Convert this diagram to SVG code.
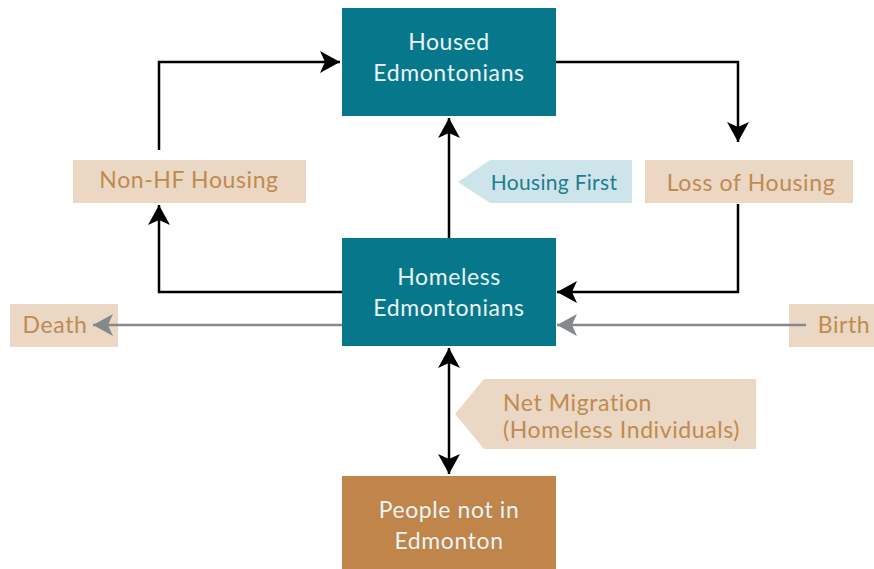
<svg xmlns="http://www.w3.org/2000/svg" width="874" height="569" viewBox="0 0 874 569">
<style>
.teal{fill:#07788C}
.tan{fill:#EAD8C4}
.org{fill:#C0854A}
.blue{fill:#CDE5EA}
text{font-family:Lato,"Open Sans","DejaVu Sans",sans-serif;font-size:23px;letter-spacing:0.6px;text-anchor:middle}
.wt{fill:#EAF4F4}
.ot{fill:#C08A50}
.bt{fill:#1D7D8E;font-size:21px;letter-spacing:0.3px}
.ln{fill:none;stroke:#000;stroke-width:2.5}
.gl{fill:none;stroke:#85888C;stroke-width:2.5}
</style>
<defs>
<marker id="ab" markerUnits="userSpaceOnUse" markerWidth="22" markerHeight="24" refX="20" refY="11" orient="auto" viewBox="0 0 22 22">
<path d="M0,0 L20,11 L0,22 L5,11 z" fill="#000"/>
</marker>
<marker id="ag" markerUnits="userSpaceOnUse" markerWidth="22" markerHeight="24" refX="20" refY="11" orient="auto" viewBox="0 0 22 22">
<path d="M0,0 L20,11 L0,22 L5,11 z" fill="#85888C"/>
</marker>
<marker id="abs" markerUnits="userSpaceOnUse" markerWidth="22" markerHeight="24" refX="20" refY="11" orient="auto-start-reverse" viewBox="0 0 22 22">
<path d="M0,0 L20,11 L0,22 L5,11 z" fill="#000"/>
</marker>
</defs>
<g id="housed">
<rect class="teal" x="342" y="8" width="214" height="108"/>
<text class="wt" x="449" y="50">Housed</text>
<text class="wt" x="449" y="81">Edmontonians</text>
</g>
<g id="homeless">
<rect class="teal" x="342" y="238" width="214" height="108"/>
<text class="wt" x="449" y="285">Homeless</text>
<text class="wt" x="449" y="316">Edmontonians</text>
</g>
<g id="people-not-in-edmonton">
<rect class="org" x="342" y="476" width="214" height="93"/>
<text class="wt" x="449" y="518">People not in</text>
<text class="wt" x="449" y="549">Edmonton</text>
</g>
<g id="non-hf-housing">
<rect class="tan" x="73" y="160" width="233" height="43"/>
<text class="ot" x="189" y="188">Non-HF Housing</text>
</g>
<g id="loss-of-housing">
<rect class="tan" x="645" y="160" width="208" height="43"/>
<text class="ot" x="751" y="191">Loss of Housing</text>
</g>
<g id="housing-first">
<polygon class="blue" points="458,182 490,160 632,160 632,203 490,203"/>
<text class="bt" x="554" y="190">Housing First</text>
</g>
<g id="death">
<rect class="tan" x="10" y="304" width="108" height="43"/>
<text class="ot" x="55" y="333">Death</text>
</g>
<g id="birth">
<rect class="tan" x="789" y="304" width="85" height="43"/>
<text class="ot" x="844" y="333">Birth</text>
</g>
<g id="net-migration">
<polygon class="tan" points="455,414 484,379 756,379 756,449 484,449"/>
<text class="ot" x="503" y="411" style="text-anchor:start">Net Migration</text>
<text class="ot" x="503" y="438" style="text-anchor:start">(Homeless Individuals)</text>
</g>
<g id="connectors">
<path class="ln" d="M159,150 V62 H340" marker-end="url(#ab)"/>
<path class="ln" d="M556,62 H738 V142" marker-end="url(#ab)"/>
<path class="ln" d="M738,204 V292 H557" marker-end="url(#ab)"/>
<path class="ln" d="M342,292 H159 V205" marker-end="url(#ab)"/>
<path class="ln" d="M449,238 V118" marker-end="url(#ab)"/>
<path class="gl" d="M342,325 H93" marker-end="url(#ag)"/>
<path class="gl" d="M806,325 H557" marker-end="url(#ag)"/>
<path class="ln" d="M449,348 V474" marker-start="url(#abs)" marker-end="url(#abs)"/>
</g>
</svg>
